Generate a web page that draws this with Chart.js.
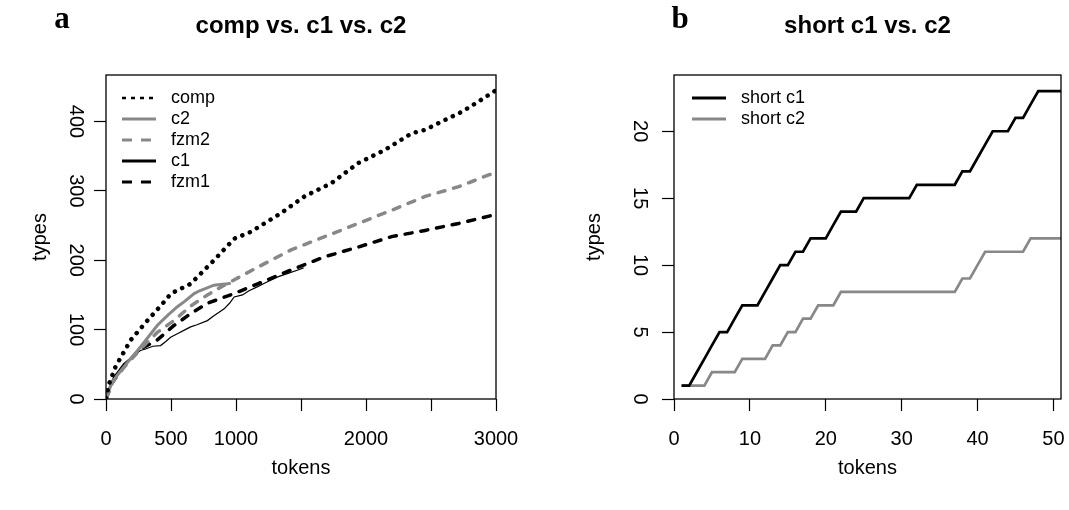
<!DOCTYPE html>
<html>
<head>
<meta charset="utf-8">
<script src="https://cdn.jsdelivr.net/npm/chart.js@4.4.0/dist/chart.umd.min.js"></script>
<style>
  html, body { margin: 0; padding: 0; background: #fff; }
  #wrap { position: relative; width: 1069px; height: 510px; overflow: hidden; }
  canvas { position: absolute; top: 0; }
  #chartA { left: 0; }
  #chartB { left: 535px; }
</style>
</head>
<body>
<div id="wrap">
  <canvas id="chartA" width="535" height="510"></canvas>
  <canvas id="chartB" width="534" height="510"></canvas>
</div>
<script>
// panel a: type counts against tokens
const compTokens = [1, 20, 72, 120, 190, 304, 433, 500, 651, 831, 986, 1115, 1347, 1527, 1733, 1940, 2145, 2352, 2455, 2583, 2738, 2867, 3000];
const compTypes  = [1, 20, 46, 62, 85, 110, 137, 152, 166, 200, 231, 241, 268, 292, 311, 340, 359, 383, 388, 400, 414, 429, 445];

const c2Tokens = [1, 13, 50, 136, 265, 394, 460, 500, 549, 600, 678, 720, 831, 880, 934, 960];
const c2Types  = [1, 8, 25, 46, 75, 106, 118, 125, 133, 140, 152, 156, 164, 165, 166, 167];

const fzm2Tokens = [1, 50, 136, 265, 394, 523, 651, 780, 909, 1167, 1424, 1682, 1940, 2197, 2455, 2713, 2944, 3000];
const fzm2Types  = [1, 24, 45, 72, 96, 113, 134, 150, 164, 190, 215, 234, 253, 272, 292, 306, 323, 326];

const c1Tokens = [1, 20, 60, 136, 226, 265, 304, 360, 420, 460, 497, 560, 610, 651, 700, 780, 830, 909, 950, 986, 1050, 1100, 1167, 1230, 1321, 1400, 1476, 1520];
const c1Types  = [1, 15, 32, 51, 65, 70, 72, 76, 77, 83, 89, 95, 100, 104, 107, 113, 120, 130, 138, 147, 150, 156, 162, 168, 176, 181, 186, 189];

const fzm1Tokens = [1, 50, 136, 265, 394, 523, 651, 780, 986, 1167, 1424, 1682, 1940, 2197, 2455, 2713, 3000];
const fzm1Types  = [1, 24, 47, 72, 85, 106, 123, 138, 152, 166, 186, 205, 219, 234, 243, 253, 266];

const xTicksA = ['0', '500', '1000', '', '2000', '', '3000'];

// panel b: short texts
const shortTokens = [1,2,3,4,5,6,7,8,9,10,11,12,13,14,15,16,17,18,19,20,21,22,23,24,25,26,27,28,29,30,31,32,33,34,35,36,37,38,39,40,41,42,43,44,45,46,47,48,49,50,51];
const shortC1 = [1,1,2,3,4,5,5,6,7,7,7,8,9,10,10,11,11,12,12,12,13,14,14,14,15,15,15,15,15,15,15,16,16,16,16,16,16,17,17,18,19,20,20,20,21,21,22,23,23,23,23];
const shortC2 = [1,1,1,1,2,2,2,2,3,3,3,3,4,4,5,5,6,6,7,7,7,8,8,8,8,8,8,8,8,8,8,8,8,8,8,8,8,9,9,10,11,11,11,11,11,11,12,12,12,12,12];

const GRAY = '#888888';
const FONT = '"Liberation Sans", Arial, sans-serif';

function pts(xs, ys) {
    return xs.map((x, i) => ({ x: x, y: ys[i] }));
}

const panelDecor = {
    id: 'panelDecor',
    afterDraw(chart, args, opts) {
        const { ctx, chartArea: a } = chart;
        ctx.save();
        ctx.strokeStyle = '#000';
        ctx.lineWidth = 1.3;
        ctx.strokeRect(a.left, a.top, a.right - a.left, a.bottom - a.top);

        ctx.fillStyle = '#000';
        ctx.textAlign = 'center';
        ctx.textBaseline = 'middle';
        ctx.font = 'bold 31px "Liberation Serif", "Times New Roman", serif';
        ctx.fillText(opts.letter, opts.letterX, 20);
        ctx.font = 'bold 24px ' + FONT;
        ctx.fillText(opts.title, (a.left + a.right) / 2, 26);

        ctx.textAlign = 'left';
        ctx.font = '18px ' + FONT;
        chart.data.datasets.forEach((ds, i) => {
            const y = opts.legendY + i * opts.legendGap;
            ctx.beginPath();
            ctx.strokeStyle = ds.borderColor;
            ctx.lineWidth = ds.legendWidth || ds.borderWidth;
            ctx.setLineDash(ds.legendDash || []);
            ctx.lineCap = 'butt';
            ctx.moveTo(opts.legendX, y);
            ctx.lineTo(opts.legendX + 34, y);
            ctx.stroke();
            ctx.setLineDash([]);
            ctx.fillText(ds.label, opts.legendX + 49, y);
        });
        ctx.restore();
    }
};

function axisX(min, max, step, labels, h, titlePad) {
    return {
        type: 'linear', min: min, max: max,
        border: { display: false },
        grid: { drawOnChartArea: false, drawTicks: true, tickLength: 12, tickColor: '#000', tickWidth: 1.2 },
        ticks: {
            stepSize: step, includeBounds: false, color: '#000', padding: 16,
            font: { family: FONT, size: 20 }, maxRotation: 0,
            callback: (v, i) => labels ? labels[i] : v
        },
        title: { display: true, text: 'tokens', color: '#000', font: { family: FONT, size: 20 }, padding: { top: 0, bottom: 30 } },
        afterFit: (s) => { s.height = h; s.paddingLeft = 0; s.paddingRight = 0; }
    };
}

function axisY(min, max, step, w, tickPad, titlePad) {
    return {
        type: 'linear', min: min, max: max,
        border: { display: false },
        grid: { drawOnChartArea: false, drawTicks: true, tickLength: 12, tickColor: '#000', tickWidth: 1.2 },
        ticks: {
            stepSize: step, includeBounds: false, color: '#000', padding: tickPad,
            font: { family: FONT, size: 20 }, minRotation: -90, crossAlign: 'center'
        },
        title: { display: true, text: 'types', color: '#000', font: { family: FONT, size: 20 }, padding: { top: titlePad, bottom: 0 } },
        afterFit: (s) => { s.width = w; s.paddingTop = 0; s.paddingBottom = 0; }
    };
}

const lineBase = { pointRadius: 0, tension: 0, fill: false };

new Chart(document.getElementById('chartA'), {
    type: 'line',
    data: {
        datasets: [
            Object.assign({}, lineBase, { label: 'comp', data: pts(compTokens, compTypes), borderColor: '#000', borderWidth: 4.5,
                borderDash: [0.1, 8], borderCapStyle: 'round', legendWidth: 2.5, legendDash: [4, 5] }),
            Object.assign({}, lineBase, { label: 'c2', data: pts(c2Tokens, c2Types), borderColor: GRAY, borderWidth: 3, legendWidth: 3 }),
            Object.assign({}, lineBase, { label: 'fzm2', data: pts(fzm2Tokens, fzm2Types), borderColor: GRAY, borderWidth: 3.5,
                borderDash: [7, 9], borderCapStyle: 'round', legendWidth: 3, legendDash: [10, 9] }),
            Object.assign({}, lineBase, { label: 'c1', data: pts(c1Tokens, c1Types), borderColor: '#000', borderWidth: 1.2, legendWidth: 3 }),
            Object.assign({}, lineBase, { label: 'fzm1', data: pts(fzm1Tokens, fzm1Types), borderColor: '#000', borderWidth: 3.5,
                borderDash: [7, 9], borderCapStyle: 'round', legendWidth: 3, legendDash: [10, 9] })
        ]
    },
    options: {
        responsive: false, animation: false,
        layout: { padding: { top: 75, right: 39, left: 0, bottom: 0 } },
        scales: {
            x: axisX(0, 3000, 500, xTicksA, 111),
            y: axisY(0, 467, 100, 106, 2, 28)
        },
        plugins: {
            legend: { display: false }, tooltip: { enabled: false },
            panelDecor: { letter: 'a', letterX: 62, title: 'comp vs. c1 vs. c2', legendX: 122, legendY: 98, legendGap: 21 }
        }
    },
    plugins: [panelDecor]
});

new Chart(document.getElementById('chartB'), {
    type: 'line',
    data: {
        datasets: [
            Object.assign({}, lineBase, { label: 'short c1', data: pts(shortTokens, shortC1), borderColor: '#000', borderWidth: 2.7, legendWidth: 3 }),
            Object.assign({}, lineBase, { label: 'short c2', data: pts(shortTokens, shortC2), borderColor: GRAY, borderWidth: 2.7, legendWidth: 3 })
        ]
    },
    options: {
        responsive: false, animation: false,
        layout: { padding: { top: 75, right: 8, left: 0, bottom: 0 } },
        scales: {
            x: axisX(0, 51, 10, null, 111),
            y: axisY(0, 24.2, 5, 139, 11, 47)
        },
        plugins: {
            legend: { display: false }, tooltip: { enabled: false },
            panelDecor: { letter: 'b', letterX: 145, title: 'short c1 vs. c2', legendX: 157, legendY: 98, legendGap: 21 }
        }
    },
    plugins: [panelDecor]
});
</script>
</body>
</html>
